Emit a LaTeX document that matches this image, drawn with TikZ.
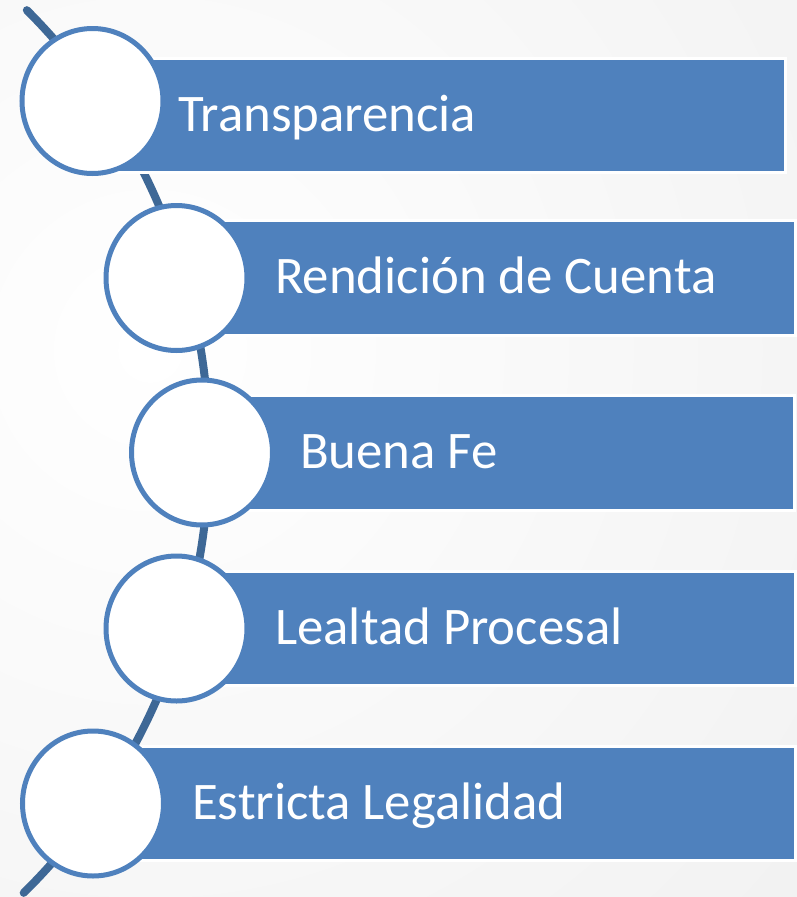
\documentclass[tikz,border=0pt]{standalone}
\usepackage{fontspec}
\setmainfont{Carlito}
\usetikzlibrary{shapes.geometric}
\definecolor{accent}{RGB}{79,129,189}
\definecolor{spine}{RGB}{62,104,150}
\begin{document}
\begin{tikzpicture}[x=1pt,y=-1pt,
  bar/.style={rectangle, fill=accent, draw=white, line width=3pt, inner sep=0pt, outer sep=0pt},
  ring/.style={ellipse, fill=white, draw=accent, line width=5pt, minimum width=141pt, minimum height=145pt, inner sep=0pt, outer sep=0pt},
  label/.style={anchor=base west, inner sep=0pt, text=white, font=\fontsize{52.8}{60}\selectfont},
  spineline/.style={draw=spine, line width=8pt, line cap=round}]
\useasboundingbox (0,0) rectangle (797,897);
\begin{scope}
  \clip (0,0) rectangle (797,897);
  \fill[white] (0,0) rectangle (797,897);
  \shade[inner color=white, outer color=black!7] (-1000,-800) rectangle (1300,1500);
\end{scope}
% spine arc
\coordinate (arcC) at (-413,450);
\coordinate (top) at ([shift={(-45:622)}]arcC);
\draw[spineline] (top) arc[start angle=-45, end angle=45.4, radius=622];
% bars
\node[bar, minimum width=695pt, minimum height=114pt] (r1) at (438.25,115.5) {};
\node[bar, minimum width=620.5pt, minimum height=115pt] (r2) at (485.25,278) {};
\node[bar, minimum width=594pt, minimum height=115pt] (r3) at (497.5,453) {};
\node[bar, minimum width=620.5pt, minimum height=114pt] (r4) at (485.25,628.5) {};
\node[bar, minimum width=704pt, minimum height=114pt] (r5) at (443.5,803.5) {};
% rings
\node[ring] (c1) at (92.5,101) {};
\node[ring] (c2) at (176.5,278) {};
\node[ring] (c3) at (202,452.5) {};
\node[ring] (c4) at (176.5,628.5) {};
\node[ring] (c5) at (93,803.5) {};
% labels
\node[label] (t1) at (178,131.5) {Transparencia};
\node[label] (t2) at (275,293.5) {Rendición de Cuenta};
\node[label] (t3) at (300,468.5) {Buena Fe};
\node[label] (t4) at (275,644) {Lealtad Procesal};
\node[label] (t5) at (192,819) {Estricta Legalidad};
\end{tikzpicture}
\end{document}
